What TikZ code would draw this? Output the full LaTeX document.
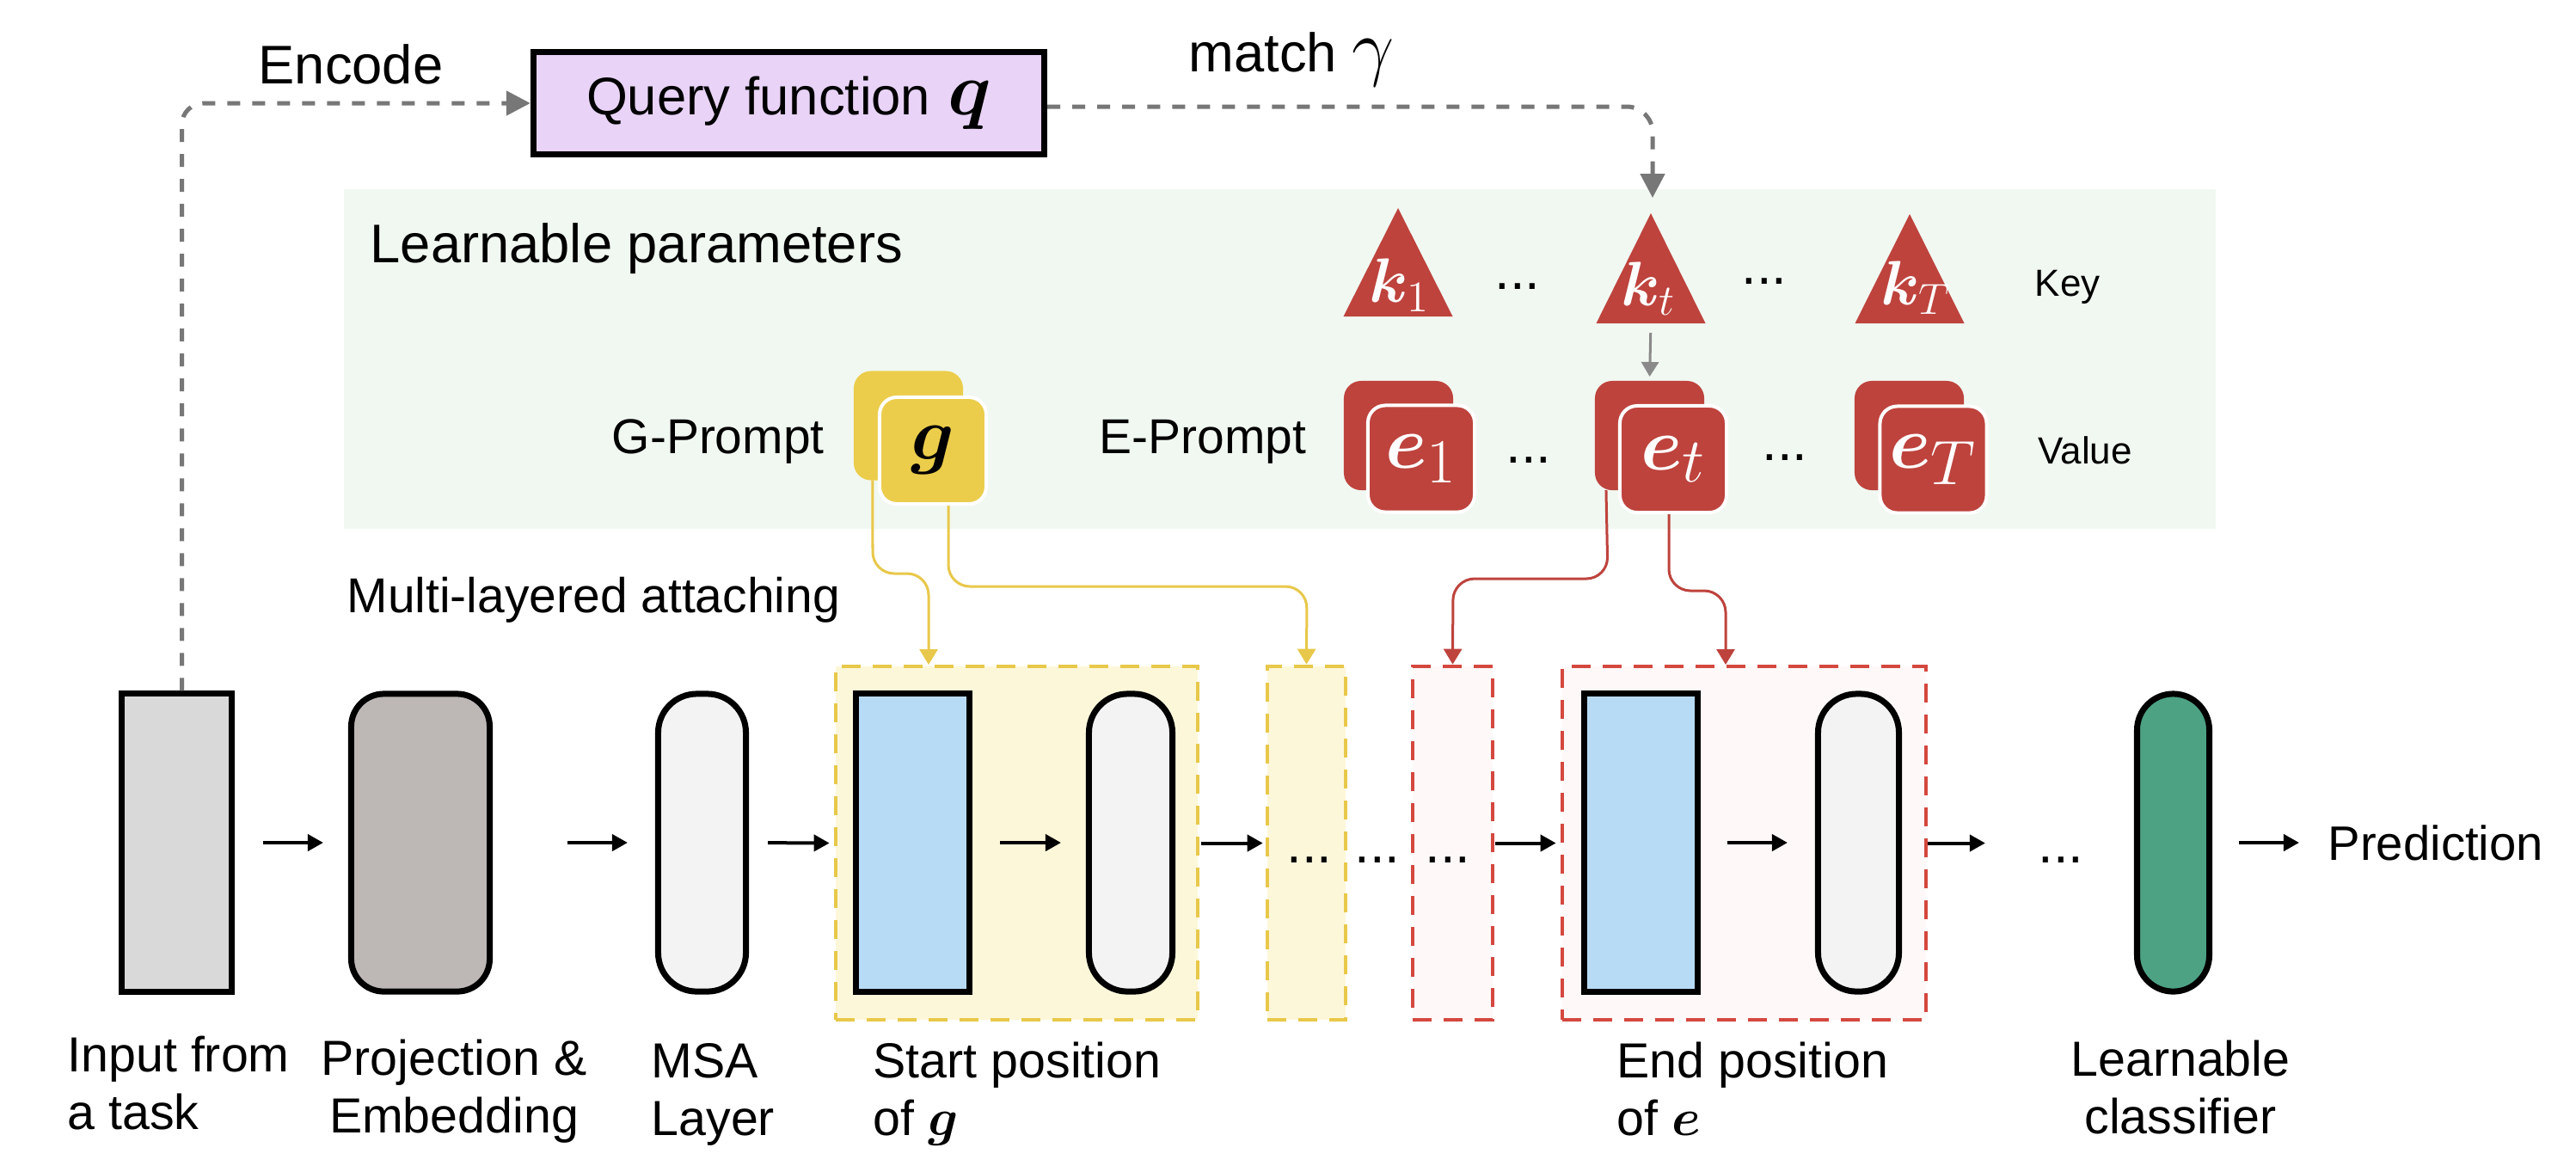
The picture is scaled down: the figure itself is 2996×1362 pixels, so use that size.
\documentclass[tikz,border=0pt]{standalone}
\usepackage[no-math]{fontspec}
\setmainfont{Liberation Sans}
\usepackage{amsmath,bm}
\usetikzlibrary{arrows.meta,calc}
\newcommand\fsz[2]{\fontsize{#1}{#2}\selectfont}
\definecolor{panel}{HTML}{F1F8F1}
\definecolor{qfill}{HTML}{E9D3F7}
\definecolor{inpfill}{HTML}{D9D9D9}
\definecolor{projfill}{HTML}{BDB7B6}
\definecolor{layfill}{HTML}{F3F3F3}
\definecolor{bluefill}{HTML}{B8DBF5}
\definecolor{clsfill}{HTML}{4DA284}
\definecolor{ylw}{HTML}{EBCD4B}
\definecolor{ylwline}{HTML}{E8C84A}
\definecolor{ylwbox}{HTML}{FDF7DA}
\definecolor{red1}{HTML}{BE433D}
\definecolor{redbox}{HTML}{FEF8F8}
\definecolor{reddash}{HTML}{D4483F}
\definecolor{dashgray}{HTML}{777777}
\definecolor{arrgray}{HTML}{8A8A8A}
\tikzset{
  blk/.style={draw=black, line width=0.07cm, inner sep=0, minimum height=3.46cm},
  ydash/.style={draw=ylwline, fill=ylwbox, line width=0.045cm, dash pattern=on 0.22cm off 0.14cm, inner sep=0, minimum height=4.11cm},
  rdash/.style={draw=reddash, fill=redbox, line width=0.045cm, dash pattern=on 0.22cm off 0.14cm, inner sep=0, minimum height=4.11cm},
  flow/.style={draw=black, line width=0.04cm, -{Triangle[length=0.18cm,width=0.19cm]}},
  gdash/.style={draw=dashgray, line width=0.05cm, dash pattern=on 0.15cm off 0.14cm, -{Triangle[length=0.28cm,width=0.28cm]}},
  yline/.style={draw=ylwline, line width=0.03cm, rounded corners=0.25cm, -{Triangle[length=0.18cm,width=0.21cm]}},
  rline/.style={draw=red1, line width=0.03cm, rounded corners=0.25cm, -{Triangle[length=0.18cm,width=0.21cm]}},
  garr/.style={draw=arrgray, line width=0.03cm, -{Triangle[length=0.17cm,width=0.2cm]}},
  pback/.style={rounded corners=0.2cm, minimum size=1.27cm, inner sep=0, outer sep=0},
  pfront/.style={draw=white, line width=0.04cm, rounded corners=0.2cm, minimum size=1.24cm, inner sep=0},
  klab/.style={text=white, font=\fsz{22}{26}, inner sep=0},
  dotsn/.style={font=\fsz{18}{21}, inner sep=0, anchor=base},
  lab/.style={font=\fsz{18}{22}, inner sep=0},
  mlab/.style={font=\fsz{16.2}{19}, inner sep=0},
  blab/.style={font=\fsz{16.3}{18.8}, inner sep=0},
}
\begin{document}
\begin{tikzpicture}[x=0.01cm, y=-0.01cm]
\useasboundingbox (0,0) rectangle (2996,1362);
\fill[white] (0,0) rectangle (2996,1362);

% learnable-parameter panel
\node[fill=panel, minimum width=21.75cm, minimum height=3.95cm, inner sep=0, outer sep=0] (panel) at (1488.5,417.5) {};

% query function
\node[draw=black, line width=0.07cm, fill=qfill, minimum width=5.94cm, minimum height=1.19cm, inner sep=0, font=\fsz{17.5}{21}] (query) at (917.5,120) {Query function\hspace{0.2cm}{\fsz{25}{30}$\bm{q}$}};
\node[lab, anchor=base] (enc) at (408,97) {Encode};
\node[lab, anchor=base west] (match) at (1382,83) {match {\fsz{25}{30}$\gamma$}};

% main pipeline
\node[ydash, minimum width=4.21cm] (ygroup) at (1182.5,980.5) {};
\node[ydash, minimum width=0.91cm] (ysmall) at (1519.5,980.5) {};
\node[rdash, minimum width=0.93cm] (rsmall) at (1689.5,980.5) {};
\node[rdash, minimum width=4.23cm] (rgroup) at (2028.5,980.5) {};

\node[blk, fill=inpfill, minimum width=1.28cm] (inp) at (205.5,980) {};
\node[blk, fill=projfill, rounded corners=0.38cm, minimum width=1.61cm] (proj) at (489,980) {};
\node[blk, fill=layfill, rounded corners=0.45cm, minimum width=1.02cm] (msa) at (816.5,980) {};
\node[blk, fill=bluefill, minimum width=1.32cm] (blue1) at (1061.5,980) {};
\node[blk, fill=layfill, rounded corners=0.45cm, minimum width=0.97cm] (lay1) at (1315,980) {};
\node[blk, fill=bluefill, minimum width=1.32cm] (blue2) at (1908.5,980) {};
\node[blk, fill=layfill, rounded corners=0.45cm, minimum width=0.94cm] (lay2) at (2161.5,980) {};
\node[blk, fill=clsfill, rounded corners=0.42cm, minimum width=0.84cm] (cls) at (2527.5,980) {};

\node[dotsn] (d1) at (1523,1003) {...};
\node[dotsn] (d2) at (1602,1003) {...};
\node[dotsn] (d3) at (1684,1003) {...};
\node[dotsn] (d4) at (2397,1003) {...};
\node[font=\fsz{16}{19}, inner sep=0, anchor=base west] (pred) at (2707,1000) {Prediction};

\draw[flow, shorten <=0.33cm, shorten >=0.29cm] (inp.east) -- (proj.west);
\draw[flow, shorten <=0.87cm, shorten >=0.32cm] (proj.east) -- (msa.west);
\draw[flow, shorten <=0.22cm, shorten >=0.05cm] (msa.east) -- (ygroup.west);
\draw[flow, shorten <=0.32cm, shorten >=0.29cm] (blue1.east) -- (lay1.west);
\draw[flow, shorten <=0.02cm, shorten >=0.03cm] (ygroup.east) -- (ysmall.west);
\draw[flow, shorten <=0.01cm, shorten >=0.05cm] (rsmall.east) -- (rgroup.west);
\draw[flow, shorten <=0.31cm, shorten >=0.32cm] (blue2.east) -- (lay2.west);
\draw[flow, shorten >=0.61cm] (rgroup.east) -- (rgroup.east -| d4.west);
\draw[flow, shorten <=0.31cm, shorten >=0.33cm] (cls.east) -- (cls.east -| pred.west);

% bottom labels (base anchor = baseline of the last line)
\node[blab, anchor=base west, align=left] (linp) at (78,1313) {Input from\\a task};
\node[blab, anchor=base, align=center] (lproj) at (528,1317) {Projection \&\\Embedding};
\node[blab, anchor=base west, align=left] (lmsa) at (757,1320) {MSA\\Layer};
\node[blab, anchor=base west, align=left] (lstart) at (1015,1320) {Start position\\of $\bm{g}$};
\node[blab, anchor=base west, align=left] (lend) at (1880,1320) {End position\\of $\bm{e}$};
\node[blab, anchor=base, align=center] (lcls) at (2536,1318) {Learnable\\classifier};

% panel texts
\node[lab, anchor=base west] (lp) at (430,305) {Learnable parameters};
\node[mlab, anchor=base west] (mla) at (403,712) {Multi-layered attaching};
\node[mlab, anchor=base west] (gpr) at (711,527) {G-Prompt};
\node[mlab, anchor=base west] (epr) at (1278,527) {E-Prompt};
\node[font=\fsz{12.5}{15}, inner sep=0, anchor=base west] (key) at (2366,344) {Key};
\node[font=\fsz{12.5}{15}, inner sep=0, anchor=base west] (val) at (2370,539) {Value};

% keys
\coordinate (k1a) at (1626,242);
\coordinate (kta) at (1920,248);
\coordinate (kTa) at (2221,249);
\fill[red1] (k1a) -- ++(-63.5,126) -- ++(127,0) -- cycle;
\fill[red1] (kta) -- ++(-63.5,128) -- ++(127,0) -- cycle;
\fill[red1] (kTa) -- ++(-63.5,127) -- ++(127,0) -- cycle;
\coordinate (ktb) at (1920,376);
\node[klab] (k1) at (1628,332) {$\bm{k}_1$};
\node[klab] (kt) at (1917,336) {$\bm{k}_t$};
\node[klab] (kT) at (2228,335) {$\bm{k}_T$};
\node[dotsn] (kd1) at (1765,336) {...};
\node[dotsn] (kd2) at (2052,330) {...};

% prompts
\node[pback, fill=ylw] (gb) at (1056.5,495) {};
\node[pfront, fill=ylw, text=black, font=\fsz{34}{38}] (gf) at (1085,524) {$\bm{g}$};
\node[pback, fill=red1] (e1b) at (1626.5,506.5) {};
\node[pfront, fill=red1, text=white, font=\fsz{30}{34}] (e1f) at (1653,533.5) {$\bm{e}_1$};
\node[pback, fill=red1] (etb) at (1918.5,506.5) {};
\node[pfront, fill=red1, text=white, font=\fsz{30}{34}] (etf) at (1946,534) {$\bm{e}_t$};
\node[pback, fill=red1] (eTb) at (2220.5,506.5) {};
\node[pfront, fill=red1, text=white, font=\fsz{30}{34}] (eTf) at (2248.5,534.5) {$\bm{e}_T$};
\node[dotsn] (ed1) at (1778,538) {...};
\node[dotsn] (ed2) at (2076,535) {...};

\draw[garr, shorten <=0.11cm, shorten >=0.05cm] (ktb) -- (etb.north);

% dashed query connectors
\coordinate (ktap) at (1922,230);
\draw[gdash, rounded corners=0.25cm] ($(inp.north)+(6,0)$) |- (query.west);
\draw[gdash, rounded corners=0.3cm] ($(query.east)+(0,4)$) -| (ktap);

% attaching connectors
\coordinate (ytgt) at (1080,773);
\coordinate (rtgt) at (2007,773);
\draw[yline] ($(gb.south west)+(22,0)$) -- (1015,667) -- (1080,667) -- (ytgt);
\draw[yline] ($(gf.south)+(18,0)$) -- (1103,682) -- (1520,682) -- (ysmall.north);
\draw[rline] ($(etb.south west)+(13,0)$) -- (1870,673) -- (1690,673) -- (rsmall.north);
\draw[rline] ($(etf.south)+(-5,0)$) -- (1941,687) -- (2007,687) -- (rtgt);
\end{tikzpicture}
\end{document}
